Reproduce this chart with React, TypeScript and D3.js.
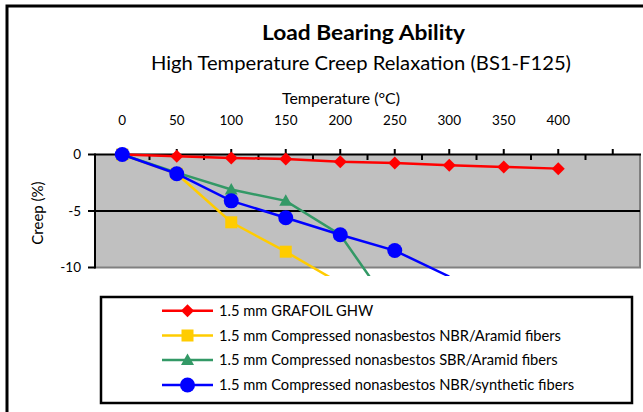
import React from "react";
import * as d3 from "d3";

const temperatures = [0, 50, 100, 150, 200, 250, 300, 350, 400];
const tickLabels = ["0", "50", "100", "150", "200", "250", "300", "350", "400"];
const grafoil = [0, -0.15, -0.3, -0.4, -0.65, -0.75, -0.95, -1.1, -1.25];
const nbrAramid = [0, -1.7, -6.0, -8.6, -11.4];
const sbrAramid = [0, -1.6, -3.1, -4.1, -7.1, -14];
const nbrSynthetic = [0, -1.7, -4.1, -5.6, -7.1, -8.5, -10.8];
const yTicks = [0, -5, -10];
const seriesNames = [
  "1.5 mm GRAFOIL GHW",
  "1.5 mm Compressed nonasbestos NBR/Aramid fibers",
  "1.5 mm Compressed nonasbestos SBR/Aramid fibers",
  "1.5 mm Compressed nonasbestos NBR/synthetic fibers",
];
const seriesColors = ["#ff0000", "#ffcc00", "#339966", "#0000ff"];
const seriesMarkers = ["diamond", "square", "triangle", "circle"];
const seriesValues = [grafoil, nbrAramid, sbrAramid, nbrSynthetic];

const FONT = "Lato, 'Open Sans', sans-serif";

function Marker({ type, x, y, color }: { type: string; x: number; y: number; color: string }) {
  if (type === "diamond") {
    const s = 6.5;
    return <path d={`M${x},${y - s}L${x + s},${y}L${x},${y + s}L${x - s},${y}Z`} fill={color} />;
  }
  if (type === "square") {
    const s = 6;
    return <rect x={x - s} y={y - s} width={2 * s} height={2 * s} fill={color} />;
  }
  if (type === "triangle") {
    const s = 6.5;
    return <path d={`M${x},${y - s}L${x + s},${y + s * 0.75}L${x - s},${y + s * 0.75}Z`} fill={color} />;
  }
  return <circle cx={x} cy={y} r={7.5} fill={color} />;
}

export default function App() {
  const x = d3.scaleLinear().domain([-25, 475]).range([95, 640]);
  const y = d3.scaleLinear().domain([0, -10]).range([154.5, 267.5]);
  const majorTicks = d3.range(0, 451, 50);
  const minorTicks = d3.range(25, 451, 50);
  const line = d3
    .line<number>()
    .x((_, i) => x(temperatures[i]))
    .y((d) => y(d));

  const legendX = 101;
  const legendY = 297;
  const rowY = [310.7, 335.5, 360, 385];

  return (
    <svg
      width={643}
      height={412}
      style={{ position: "absolute", left: 0, top: 0, background: "#fff" }}
      fontFamily={FONT}
    >
      <defs>
        <clipPath id="lineclip">
          <rect x={95} y={140} width={560} height={276 - 140} />
        </clipPath>
      </defs>
      <rect x={7} y={6} width={700} height={500} fill="#fff" stroke="#000" strokeWidth={3} />

      <text x={262} y={40} fontSize={20} fontWeight="bold" fill="#000" textLength={203} lengthAdjust="spacingAndGlyphs">
        Load Bearing Ability
      </text>
      <text x={151} y={70} fontSize={19.5} fill="#000" textLength={420} lengthAdjust="spacingAndGlyphs">
        High Temperature Creep Relaxation (BS1-F125)
      </text>
      <text x={282} y={103.5} fontSize={15} fill="#000" textLength={118} lengthAdjust="spacingAndGlyphs">
        Temperature (°C)
      </text>
      {temperatures.map((t, i) => (
        <text key={t} x={x(t)} y={125} textAnchor="middle" fontSize={13.5} fill="#000">
          {tickLabels[i]}
        </text>
      ))}

      {/* plot area */}
      <rect x={95} y={y(0)} width={545} height={y(-10) - y(0)} fill="#c0c0c0" />
      <line x1={640} x2={640} y1={y(0)} y2={y(-10)} stroke="#808080" strokeWidth={2} />
      <line x1={95} x2={641} y1={y(-10)} y2={y(-10)} stroke="#808080" strokeWidth={2} />
      <line x1={95} x2={640} y1={y(-5)} y2={y(-5)} stroke="#000" strokeWidth={2} />
      <line x1={95} x2={641} y1={y(0)} y2={y(0)} stroke="#000" strokeWidth={2} />
      <line x1={95} x2={95} y1={y(0) - 1} y2={y(-10) + 1} stroke="#000" strokeWidth={2} />
      {majorTicks.map((t) => (
        <line key={"M" + t} x1={x(t)} x2={x(t)} y1={y(0) - 5.5} y2={y(0)} stroke="#000" strokeWidth={2} />
      ))}
      {minorTicks.map((t) => (
        <line key={"m" + t} x1={x(t)} x2={x(t)} y1={y(0)} y2={y(0) + 5.5} stroke="#000" strokeWidth={2} />
      ))}
      {yTicks.map((v) => (
        <g key={v}>
          <line x1={88} x2={95} y1={y(v)} y2={y(v)} stroke="#000" strokeWidth={2} />
          <text x={81} y={y(v) + 4.5} textAnchor="end" fontSize={13.5} fill="#000">
            {v}
          </text>
        </g>
      ))}
      <text
        transform={`translate(43,${213}) rotate(-90)`}
        textAnchor="middle"
        fontSize={15}
        fill="#000"
      >
        Creep (%)
      </text>

      {seriesValues.map((vals, si) => (
        <g key={si}>
          <path
            d={line(vals) || ""}
            fill="none"
            stroke={seriesColors[si]}
            strokeWidth={2.5}
            clipPath="url(#lineclip)"
          />
          {vals.map((v, i) =>
            v >= -10 ? (
              <Marker key={i} type={seriesMarkers[si]} x={x(temperatures[i])} y={y(v)} color={seriesColors[si]} />
            ) : null
          )}
        </g>
      ))}

      {/* legend */}
      <rect x={legendX} y={legendY} width={531} height={106} fill="#fff" stroke="#000" strokeWidth={2.5} />
      {seriesNames.map((name, i) => (
        <g key={name}>
          <line x1={162} x2={213} y1={rowY[i]} y2={rowY[i]} stroke={seriesColors[i]} strokeWidth={2.5} />
          <Marker type={seriesMarkers[i]} x={187.5} y={rowY[i]} color={seriesColors[i]} />
          <text x={219} y={rowY[i] + 5} fontSize={14.7} fill="#000">
            {name}
          </text>
        </g>
      ))}
    </svg>
  );
}
